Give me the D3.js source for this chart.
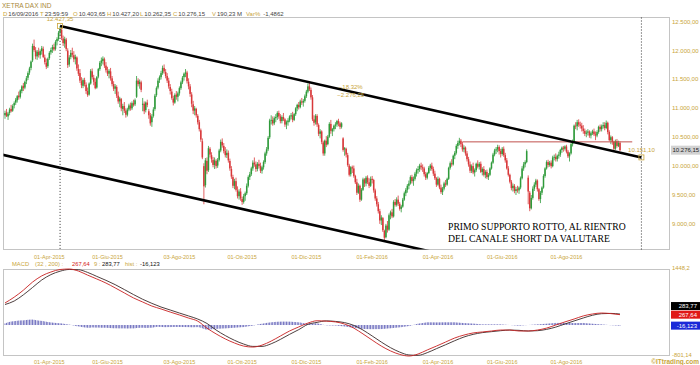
<!DOCTYPE html>
<html>
<head>
<meta charset="utf-8">
<script src="https://cdn.jsdelivr.net/npm/d3@7"></script>
<style>
html, body { margin: 0; padding: 0; background: #fff; }
svg { display: block; font-family: "Liberation Sans", Arial, sans-serif; }
</style>
</head>
<body>
<svg id="chart" width="700" height="365"></svg>
<script>
// --- Data ---

// daily candles [open, high, low, close], 18-Feb-2015 .. 16-Sep-2016
const candles = [
[10880,10960,10820,10920],[10930,10990,10850,10870],[10860,10940,10800,10910],[10920,11010,10880,10980],[10990,11060,10930,10950],
[10960,11070,10940,11040],[11050,11120,11000,11090],[11100,11180,11060,11150],[11140,11230,11100,11210],[11220,11290,11150,11190],
[11200,11330,11170,11310],[11300,11400,11260,11380],[11390,11440,11300,11350],[11360,11480,11330,11460],[11470,11560,11420,11520],
[11530,11640,11490,11610],[11620,11720,11580,11690],[11700,11830,11660,11810],[11830,12120,11800,12080],[12080,12190,11980,12010],
[12000,12060,11850,11900],[11900,12010,11840,11980],[11980,12050,11880,11920],[11920,12020,11860,11990],[11990,12080,11930,12040],
[12030,12070,11870,11890],[11880,11930,11760,11800],[11790,11860,11680,11720],[11730,11880,11700,11860],[11870,11990,11840,11960],
[11970,12050,11930,12010],[12020,12100,11960,12060],[12060,12120,11990,12020],[12030,12180,12000,12150],[12160,12230,12090,12200],
[12200,12340,12170,12310],[12320,12427,12260,12370],[12360,12400,12180,12220],[12210,12260,12080,12130],[12120,12240,12050,12200],
[12190,12220,11990,12030],[12000,12040,11700,11750],[11760,11920,11720,11880],[11890,12010,11850,11960],[11960,12050,11880,11930],
[11920,11990,11800,11850],[11850,11930,11760,11890],[11880,11900,11650,11690],[11680,11760,11560,11600],[11610,11680,11440,11480],
[11470,11540,11350,11400],[11390,11520,11350,11490],[11490,11530,11380,11420],[11410,11450,11250,11300],[11300,11360,11200,11230],
[11240,11450,11220,11430],[11430,11680,11410,11650],[11640,11690,11500,11540],[11530,11580,11400,11460],[11460,11520,11330,11350],
[11360,11560,11340,11540],[11550,11700,11520,11680],[11680,11820,11650,11790],[11790,11880,11730,11830],[11820,11900,11760,11860],
[11850,11880,11700,11740],[11740,11800,11620,11660],[11650,11720,11560,11600],[11600,11680,11520,11650],[11640,11700,11480,11520],
[11520,11560,11380,11420],[11420,11470,11300,11340],[11340,11420,11250,11380],[11370,11400,11180,11220],[11220,11290,11080,11120],
[11120,11200,11020,11170],[11160,11180,10950,11000],[10990,11080,10880,11040],[11040,11110,10920,10960],[10960,11000,10840,10890],
[10890,11010,10860,10980],[10980,11080,10950,11050],[11050,11100,10960,11000],[11000,11120,10970,11090],[11090,11150,11030,11060],
[11070,11170,11040,11140],[11200,11560,11180,11480],[11480,11520,11380,11420],[11420,11500,11340,11460],[11450,11480,11280,11320],
[11060,11180,10950,11080],[11080,11120,10900,10950],[10970,11120,10930,11100],[11100,11150,11020,11060],[10950,10990,10820,10880],
[10880,10920,10700,10740],[10760,10900,10680,10860],[10870,11020,10840,10980],[10990,11250,10960,11220],[11230,11380,11200,11350],
[11360,11520,11330,11480],[11490,11570,11440,11540],[11540,11650,11500,11610],[11610,11740,11580,11700],[11700,11760,11600,11640],
[11630,11680,11520,11560],[11560,11610,11440,11480],[11480,11530,11340,11380],[11370,11420,11240,11300],[11290,11340,11150,11180],
[11170,11220,11050,11100],[11100,11260,11080,11230],[11240,11300,11150,11200],[11200,11290,11120,11260],[11260,11380,11220,11350],
[11350,11480,11320,11450],[11450,11560,11420,11530],[11540,11620,11480,11600],[11600,11680,11540,11620],[11620,11650,11430,11470],
[11460,11520,11330,11380],[11380,11420,11200,11250],[11240,11280,11020,11080],[11070,11130,10900,10960],[10960,11040,10880,11000],
[10990,11010,10840,10880],[10870,10900,10720,10760],[10760,10800,10600,10640],[10620,10650,10420,10460],[10430,10480,10120,10150],
[10000,10050,9340,9650],[9670,10140,9630,10100],[10090,10150,9860,9920],[9930,10350,9900,10310],[10300,10330,10150,10200],
[10190,10240,10060,10120],[10110,10160,9980,10020],[10020,10150,9950,10100],[10090,10120,9960,10000],[10010,10140,9970,10110],
[10110,10300,10080,10270],[10270,10460,10240,10420],[10420,10480,10320,10360],[10350,10400,10220,10260],[10260,10330,10150,10190],
[10190,10290,10140,10230],[10230,10270,10060,10100],[10090,10130,9920,9960],[9950,10000,9780,9820],[9810,9850,9620,9660],
[9660,9780,9600,9740],[9740,9800,9560,9590],[9580,9650,9440,9480],[9480,9600,9420,9560],[9560,9620,9400,9440],
[9430,9470,9330,9380],[9380,9520,9350,9480],[9480,9560,9400,9530],[9530,9700,9500,9660],[9660,9840,9630,9810],
[9810,9900,9760,9860],[9860,9990,9830,9960],[9960,10100,9920,10060],[10060,10150,9990,10030],[10030,10080,9900,9950],
[9950,10070,9910,10040],[10040,10110,9960,10000],[10000,10060,9880,9920],[9920,10010,9870,9980],[9980,10100,9940,10070],
[10070,10250,10040,10220],[10220,10330,10180,10290],[10290,10520,10260,10490],[10500,10820,10470,10790],[10790,10880,10720,10800],
[10800,10860,10700,10740],[10740,10860,10710,10830],[10830,10900,10760,10850],[10850,10950,10800,10920],[10920,10960,10820,10860],
[10860,10900,10740,10780],[10780,10880,10740,10850],[10850,10920,10780,10810],[10810,10830,10680,10720],[10720,10790,10640,10760],
[10760,10830,10700,10790],[10790,10880,10760,10860],[10860,10920,10810,10880],[10880,10940,10760,10800],[10800,10920,10780,10900],
[10900,11020,10870,11000],[11000,11080,10950,11060],[11060,11110,10980,11020],[11020,11150,11000,11120],[11120,11180,11060,11100],
[11100,11160,11030,11130],[11130,11240,11100,11210],[11210,11320,11180,11290],[11290,11430,11260,11380],[11380,11440,11300,11330],
[11320,11360,11150,11190],[11190,11230,10780,10810],[10810,10880,10700,10750],[10760,10900,10720,10870],[10870,10900,10680,10720],
[10710,10740,10520,10560],[10560,10640,10480,10600],[10600,10620,10380,10420],[10410,10440,10180,10220],[10220,10460,10180,10440],
[10440,10520,10330,10370],[10380,10540,10360,10510],[10510,10760,10490,10730],[10730,10800,10560,10610],[10600,10660,10520,10640],
[10640,10720,10600,10700],[10700,10760,10640,10720],[10720,10800,10680,10780],[10780,10820,10690,10740],[10740,10770,10640,10680],
[10680,10760,10650,10740],[10480,10500,10250,10280],[10290,10330,10180,10310],[10300,10320,10150,10200],[10190,10230,9990,10020],
[10010,10040,9820,9850],[9860,10000,9820,9980],[9980,10010,9880,9960],[9960,10010,9800,9830],[9830,9850,9690,9720],
[9720,9780,9500,9540],[9540,9700,9520,9660],[9660,9680,9380,9420],[9420,9620,9400,9590],[9590,9800,9570,9770],
[9770,9790,9640,9700],[9700,9830,9650,9800],[9800,9840,9690,9720],[9720,9790,9620,9660],[9660,9820,9640,9780],
[9780,9830,9700,9760],[9760,9780,9540,9580],[9580,9610,9400,9440],[9440,9480,9300,9340],[9340,9380,9180,9220],
[9220,9260,9000,9060],[9060,9150,8980,9110],[9100,9120,8860,8890],[8880,8900,8700,8760],[8770,9000,8750,8970],
[8970,9050,8850,8900],[8900,9180,8880,9150],[9150,9230,9080,9200],[9200,9260,9100,9130],[9130,9410,9110,9380],
[9380,9430,9300,9330],[9330,9460,9300,9420],[9420,9490,9310,9350],[9350,9380,9230,9260],[9260,9330,9200,9300],
[9300,9450,9280,9420],[9420,9560,9400,9530],[9530,9620,9480,9590],[9590,9690,9540,9660],[9660,9750,9600,9700],
[9700,9840,9680,9810],[9810,9850,9700,9740],[9740,9820,9660,9780],[9780,9900,9750,9870],[9870,9960,9820,9930],
[9930,10000,9870,9950],[9950,10040,9900,10010],[10010,10060,9930,9980],[9980,10030,9900,9960],[9960,9990,9820,9860],
[9860,9900,9760,9800],[9800,9900,9770,9880],[9880,10000,9860,9970],[9970,10040,9920,10010],[10010,10060,9920,9950],
[9950,9990,9830,9870],[9870,9920,9760,9790],[9790,9810,9640,9680],[9680,9820,9660,9780],[9780,9800,9600,9630],
[9630,9680,9520,9550],[9550,9640,9500,9610],[9610,9730,9580,9700],[9700,9760,9640,9680],[9680,9800,9660,9780],
[9780,9990,9760,9970],[9970,10080,9940,10050],[10050,10120,9990,10030],[10030,10200,10010,10180],[10180,10260,10120,10230],
[10230,10380,10200,10350],[10350,10440,10300,10400],[10400,10490,10360,10440],[10440,10470,10330,10380],[10380,10420,10250,10290],
[10290,10360,10240,10320],[10320,10340,10180,10220],[10220,10260,10080,10120],[10120,10160,9990,10030],[10030,10080,9880,9920],
[9920,10030,9880,10000],[10000,10060,9860,9890],[9890,9960,9820,9930],[9930,10060,9900,10040],[10040,10100,9960,9990],
[9990,10070,9940,10040],[10040,10080,9880,9900],[9900,9980,9840,9950],[9950,10000,9820,9850],[9850,9930,9790,9900],
[9900,9940,9780,9810],[9810,9880,9760,9850],[9850,9980,9830,9960],[9960,10080,9940,10060],[10060,10230,10040,10200],
[10200,10300,10170,10270],[10270,10330,10210,10290],[10290,10370,10240,10330],[10330,10360,10200,10260],[10260,10300,10150,10210],
[10210,10330,10180,10300],[10300,10340,10160,10190],[10190,10230,10060,10100],[10100,10140,9940,9960],[9960,10000,9820,9850],
[9850,9870,9700,9730],[9730,9760,9580,9620],[9620,9700,9560,9660],[9660,9690,9530,9570],[9570,9640,9500,9600],
[9600,9660,9540,9580],[9580,9650,9520,9630],[9630,9820,9600,9790],[9790,10000,9770,9960],[9960,10070,9920,10030],
[10030,10100,9980,10070],[10070,10290,10050,10260],[9800,9840,9340,9560],[9540,9570,9220,9270],[9270,9500,9250,9450],
[9450,9650,9420,9610],[9610,9720,9570,9680],[9680,9780,9640,9750],[9750,9770,9560,9600],[9600,9620,9400,9430],
[9430,9570,9360,9540],[9540,9650,9500,9630],[9630,9860,9610,9830],[9830,9980,9800,9960],[9960,10100,9940,10070],
[10070,10110,9980,10020],[10020,10090,9990,10060],[10060,10100,9960,10000],[10000,10180,9980,10150],[10150,10200,10100,10160],
[10160,10220,10080,10120],[10120,10200,10080,10180],[10180,10250,10130,10200],[10200,10300,10160,10280],[10280,10340,10230,10320],
[10320,10350,10250,10300],[10300,10360,10270,10340],[10340,10370,10220,10250],[10250,10280,10140,10170],[10170,10240,10080,10220],
[10220,10400,10200,10380],[10380,10460,10340,10430],[10430,10720,10420,10700],[10700,10760,10640,10690],[10690,10800,10620,10760],
[10760,10810,10680,10720],[10720,10770,10650,10700],[10700,10750,10600,10650],[10650,10710,10560,10610],[10610,10650,10520,10560],
[10560,10620,10500,10580],[10580,10640,10530,10600],[10600,10620,10490,10530],[10530,10600,10480,10570],[10570,10630,10540,10600],
[10600,10650,10520,10550],[10550,10600,10450,10530],[10530,10620,10500,10590],[10590,10700,10560,10680],[10680,10720,10600,10640],
[10640,10720,10600,10690],[10690,10760,10650,10710],[10710,10760,10620,10660],[10660,10790,10640,10750],[10750,10770,10550,10590],
[10590,10620,10430,10450],[10450,10530,10380,10500],[10500,10520,10370,10420],[10420,10440,10280,10300],[10300,10460,10280,10430],
[10430,10470,10320,10350],[10350,10440,10330,10400],[10403.65,10427.2,10262.35,10276.15]
];

// date axis: bar index of each label
const tickIdx = [29, 67, 114, 155, 197, 240, 283, 325, 367];
const tickLabels = ["01-Apr-2015", "01-Giu-2015", "03-Ago-2015", "01-Ott-2015", "01-Dic-2015",
                    "01-Feb-2016", "01-Apr-2016", "01-Giu-2016", "01-Ago-2016"];
const priceTicks = [12500, 12000, 11500, 11000, 10500, 10000, 9500, 9000];

// trend lines: [bar index, price]
const channelStart = [36, 12427.35];
const channelEnd = [416, 10151.10];
const channelWidth = 2455;            // distance of the lower parallel line
const resistance = [299, 410, 10420]; // from bar, to bar, level

// MACD (32,200) and signal 9, read every 6 bars
const macdStep = 6;
const macdLine = [570,720,900,1110,1270,1370,1435,1448.2,1395,1290,1190,1085,960,830,700,595,490,415,335,260,
  180,100,-80,-230,-360,-465,-545,-570,-520,-415,-285,-155,-50,50,110,100,80,25,-80,-230,
  -390,-545,-670,-760,-801.14,-750,-645,-545,-440,-335,-260,-205,-180,-155,-130,-130,-155,-155,-130,-80,
  0,80,155,235,285,310,295,267.64];
const signalLine = [530,620,780,970,1163,1303,1391,1436,1430,1360,1257,1155,1044,917,787,665,560,465,388,310,
  234,154,40,-130,-273,-395,-492,-553,-553,-485,-372,-242,-120,17,68,107,93,62,-10,-130,
  -283,-441,-586,-700,-774,-784,-715,-612,-510,-405,-310,-242,-197,-172,-147,-130,-138,-155,-147,-113,
  -54,27,105,182,252,293,300,283.77];
// histogram, one value per bar
const histogram = [
40,55,70,80,90,95, 100,105,110,115,118,120, 120,125,130,135,138,140, 140,135,128,120,115,110,
107,100,92,85,78,72, 67,62,58,54,50,47, 44,40,35,28,22,16, 12,4,-5,-14,-22,-30,
-35,-42,-50,-56,-62,-66, -70,-72,-68,-62,-64,-66, -67,-66,-68,-70,-70,-70, -70,-73,-76,-79,-82,-84,
-84,-85,-86,-87,-87,-87, -87,-88,-90,-88,-87,-87, -87,-84,-78,-74,-72,-71, -70,-72,-75,-74,-72,-70,
-70,-62,-55,-48,-46,-48, -50,-52,-54,-55,-54,-53, -53,-52,-51,-50,-50,-50, -50,-51,-52,-52,-53,-54,
-54,-56,-58,-58,-56,-55, -54,-60,-70,-85,-100,-112, -120,-118,-114,-110,-106,-103, -100,-97,-95,-93,-90,-88,
-87,-84,-81,-78,-75,-72, -70,-67,-64,-61,-58,-55, -53,-47,-40,-33,-27,-22, -17,-8,2,12,22,28,
33,40,47,54,60,65, 70,74,78,81,84,86, 87,88,88,88,88,87, 87,85,82,79,76,73,
70,64,57,50,43,37, 33,35,38,40,42,43, 42,35,26,16,6,-2, -7,-9,-10,-11,-12,-13,
-13,-17,-21,-25,-29,-33, -37,-43,-49,-55,-61,-66, -70,-76,-82,-88,-94,-98, -100,-102,-104,-105,-106,-107,
-107,-107,-106,-106,-105,-105, -104,-101,-98,-94,-90,-87, -84,-80,-76,-72,-68,-64, -60,-55,-50,-44,-38,-32,
-27,-17,-7,3,13,24, 34,40,46,52,58,64, 70,70,69,69,68,68, 67,68,68,69,69,70,
70,70,70,70,70,70, 70,66,63,60,56,53, 50,48,46,43,41,39, 37,34,30,27,23,20,
17,17,17,17,17,17, 17,17,17,17,17,17, 17,14,11,8,5,2, 0,-3,-6,-9,-12,-15,
-17,-14,-11,-8,-5,-3, 0,3,6,9,12,15, 17,20,22,25,28,31, 33,37,40,44,47,51,
54,54,54,54,53,53, 53,53,52,52,51,51, 50,50,51,51,52,52, 53,50,46,43,40,36,
33,30,27,24,20,18, 17,13,10,6,2,-2, -5,-7,-9,-11,-13,-15, -16.123
];
const macdRange = [-801.14, 1448.2];

// header
const title = "XETRA DAX IND";
const headerFields = [["D", "16/09/2016"], ["T", "23:59:59"], ["O", "10.403,65"], ["H", "10.427,20"],
  ["L", "10.262,35"], ["C", "10.276,15"], ["V", "190,23 M"], ["Var%", "-1,4862"]];
const headerX = [3, 40, 73, 107, 140, 173, 212, 246];
const note = ["PRIMO SUPPORTO ROTTO, AL RIENTRO", "DEL CANALE SHORT DA VALUTARE"];

// --- Styles ---
const gold = "#c9a53a";
const upColor = "#2f9a3a";
const downColor = "#d8383a";
const frameColor = "#c4c4c4";

const it = d3.formatLocale({decimal: ",", thousands: ".", grouping: [3], currency: ["", "€"]});
const fmtPrice = it.format(",.2f");
const comma = v => String(v).replace(".", ",");

const svg = d3.select("#chart");

// --- Scales ---
const x = d3.scaleLinear().domain([0, candles.length - 1]).range([5, 620]);
const y = d3.scaleLinear().domain([9000, 12500]).range([223.9, 21.7]);
const ym = d3.scaleLinear().domain(macdRange).range([356, 269]);

const main = {left: 3.5, top: 17.5, right: 669.5, bottom: 249.5};
const lower = {left: 3.5, top: 269.5, right: 669.5, bottom: 355.5};

svg.append("defs").append("clipPath").attr("id", "clipMain")
    .append("rect")
    .attr("x", main.left).attr("y", main.top)
    .attr("width", main.right - main.left).attr("height", main.bottom - main.top);

// frames
[main, lower].forEach(function (p) {
    svg.append("rect")
        .attr("x", p.left).attr("y", p.top)
        .attr("width", p.right - p.left).attr("height", p.bottom - p.top)
        .attr("fill", "none").attr("stroke", frameColor);
});

// --- Header ---
svg.append("text").attr("x", 2).attr("y", 7.5)
    .attr("font-size", 6.5).attr("fill", "#a8893a").text(title);

const hdr = svg.append("g").attr("font-size", 6);
headerFields.forEach(function (f, i) {
    const t = hdr.append("text").attr("x", headerX[i]).attr("y", 15.5);
    t.append("tspan").attr("fill", gold).text(f[0]);
    t.append("tspan").attr("fill", "#444").attr("dx", f[0].length > 1 ? 3 : 1).text(f[1]);
});

// --- Price panel ---
const plot = svg.append("g").attr("clip-path", "url(#clipMain)");

// candles
const bars = plot.append("g").selectAll("g")
    .data(candles)
    .join("g")
    .attr("fill", d => d[3] >= d[0] ? upColor : downColor)
    .attr("stroke", d => d[3] >= d[0] ? upColor : downColor);

bars.append("line")
    .attr("x1", (d, i) => x(i)).attr("x2", (d, i) => x(i))
    .attr("y1", d => y(d[1])).attr("y2", d => y(d[2]))
    .attr("stroke-width", 0.8);

bars.append("rect")
    .attr("stroke", "none")
    .attr("x", (d, i) => x(i) - 0.75)
    .attr("width", 1.5)
    .attr("y", d => y(Math.max(d[0], d[3])))
    .attr("height", d => Math.max(0.8, Math.abs(y(d[0]) - y(d[3]))));

// resistance line
plot.append("line")
    .attr("x1", x(resistance[0])).attr("x2", x(resistance[1]))
    .attr("y1", y(resistance[2])).attr("y2", y(resistance[2]))
    .attr("stroke", "#c0504d").attr("stroke-width", 1);

// channel
const slope = (channelEnd[1] - channelStart[1]) / (channelEnd[0] - channelStart[0]);
const chanAt = i => channelStart[1] + (i - channelStart[0]) * slope;
const i0 = x.invert(0);

plot.append("line")
    .attr("x1", x(channelStart[0])).attr("y1", y(channelStart[1]))
    .attr("x2", x(channelEnd[0])).attr("y2", y(channelEnd[1]))
    .attr("stroke", "#000").attr("stroke-width", 2.6);

plot.append("line")
    .attr("x1", x(i0)).attr("y1", y(chanAt(i0) - channelWidth))
    .attr("x2", x(channelEnd[0])).attr("y2", y(channelEnd[1] - channelWidth))
    .attr("stroke", "#000").attr("stroke-width", 2.6);

// dotted markers
svg.append("line")
    .attr("x1", x(channelStart[0])).attr("x2", x(channelStart[0]))
    .attr("y1", y(channelStart[1]) + 3).attr("y2", main.bottom)
    .attr("stroke", "#333").attr("stroke-dasharray", "1,2");
svg.append("line")
    .attr("x1", x(channelEnd[0])).attr("x2", x(channelEnd[0]))
    .attr("y1", main.top).attr("y2", main.bottom)
    .attr("stroke", "#333").attr("stroke-dasharray", "1,2");

[channelStart, channelEnd].forEach(function (p) {
    svg.append("rect")
        .attr("x", x(p[0]) - 2.5).attr("y", y(p[1]) - 2.5)
        .attr("width", 5).attr("height", 5)
        .attr("fill", "none").attr("stroke", gold).attr("stroke-width", 0.8);
    svg.append("text")
        .attr("x", x(p[0])).attr("y", y(p[1]) - 5)
        .attr("text-anchor", "middle").attr("font-size", 6).attr("fill", gold)
        .text(fmtPrice(p[1]));
});

// change labels at midpoint of the channel line
const midX = (x(channelStart[0]) + x(channelEnd[0])) / 2;
const midY = (y(channelStart[1]) + y(channelEnd[1])) / 2;
const diff = channelEnd[1] - channelStart[1];
svg.append("text")
    .attr("x", midX).attr("y", midY - 2.5)
    .attr("text-anchor", "middle").attr("font-size", 6).attr("fill", gold)
    .text(it.format(".2f")(diff / channelStart[1] * 100) + "%");
svg.append("text")
    .attr("x", midX).attr("y", midY + 5.5)
    .attr("text-anchor", "middle").attr("font-size", 6).attr("fill", gold)
    .text(fmtPrice(diff));

// price axis labels
svg.append("g").selectAll("text")
    .data(priceTicks)
    .join("text")
    .attr("x", 672).attr("y", d => y(d) + 2)
    .attr("font-size", 6).attr("fill", gold)
    .text(d => fmtPrice(d));

// last price badge
const lastClose = candles[candles.length - 1][3];
svg.append("rect")
    .attr("x", 671).attr("y", y(lastClose) - 4.5)
    .attr("width", 29).attr("height", 9).attr("fill", "#d2d2d2");
svg.append("text")
    .attr("x", 672.5).attr("y", y(lastClose) + 2)
    .attr("font-size", 6).attr("fill", "#222")
    .text(fmtPrice(lastClose));

// note
svg.append("g")
    .attr("font-family", "'Liberation Serif', 'Times New Roman', serif")
    .attr("font-size", 9.7).attr("fill", "#000")
    .selectAll("text")
    .data(note)
    .join("text")
    .attr("x", 448).attr("y", (d, i) => 230 + i * 12)
    .text(d => d);

// date labels, both panels
[259, 364].forEach(function (ty) {
    svg.append("g").selectAll("text")
        .data(tickIdx)
        .join("text")
        .attr("x", d => x(d)).attr("y", ty)
        .attr("text-anchor", "middle").attr("font-size", 5.5).attr("fill", gold)
        .text((d, i) => tickLabels[i]);
});

// --- MACD panel ---
const last = macdLine.length - 1;
const mh = svg.append("text").attr("x", 12).attr("y", 266).attr("font-size", 5.8);
mh.append("tspan").attr("fill", gold).text("MACD");
mh.append("tspan").attr("x", 35).attr("fill", gold).text("(32 , 200) :");
mh.append("tspan").attr("x", 72).attr("fill", "#d42020").text(comma(macdLine[last]));
mh.append("tspan").attr("x", 94).attr("fill", gold).text("9 :");
mh.append("tspan").attr("x", 102).attr("fill", "#111").text(comma(signalLine[last]));
mh.append("tspan").attr("x", 125).attr("fill", gold).text("hist :");
mh.append("tspan").attr("x", 140).attr("fill", "#111").text(comma(histogram[histogram.length - 1]));

// histogram
svg.append("g").selectAll("rect")
    .data(histogram)
    .join("rect")
    .attr("x", (d, i) => x(i) - 0.4)
    .attr("width", 0.8)
    .attr("y", d => Math.min(ym(d), ym(0)))
    .attr("height", d => Math.abs(ym(d) - ym(0)))
    .attr("fill", "#5858b4");

const macdPath = d3.line()
    .x((d, i) => x(i * macdStep))
    .y(d => ym(d))
    .curve(d3.curveMonotoneX);

svg.append("path").datum(signalLine)
    .attr("d", macdPath).attr("fill", "none")
    .attr("stroke", "#3a2a2a").attr("stroke-width", 0.9);
svg.append("path").datum(macdLine)
    .attr("d", macdPath).attr("fill", "none")
    .attr("stroke", "#c82020").attr("stroke-width", 0.9);

// macd axis labels
svg.append("g").selectAll("text")
    .data(macdRange)
    .join("text")
    .attr("x", 672).attr("y", d => ym(d) + 1)
    .attr("font-size", 5.8).attr("fill", gold)
    .text(d => comma(d));

// macd value badges
const badges = [
    {v: signalLine[last], c: "#000", dy: -8},
    {v: macdLine[last], c: "#e01818", dy: 0},
    {v: histogram[histogram.length - 1], c: "#1a2ad8", dy: 0}
];
badges.forEach(function (b) {
    const cy = ym(b.v) + b.dy;
    svg.append("rect")
        .attr("x", 671).attr("y", cy - 4)
        .attr("width", 29).attr("height", 8).attr("fill", b.c);
    svg.append("text")
        .attr("x", 697).attr("y", cy + 2)
        .attr("text-anchor", "end").attr("font-size", 6).attr("fill", "#fff")
        .text(comma(b.v));
});

// credit
svg.append("text")
    .attr("x", 699).attr("y", 363.5)
    .attr("text-anchor", "end").attr("font-size", 6.5).attr("font-weight", "bold")
    .attr("fill", gold).text("\u00A9ITtrading.com");
</script>
</body>
</html>
